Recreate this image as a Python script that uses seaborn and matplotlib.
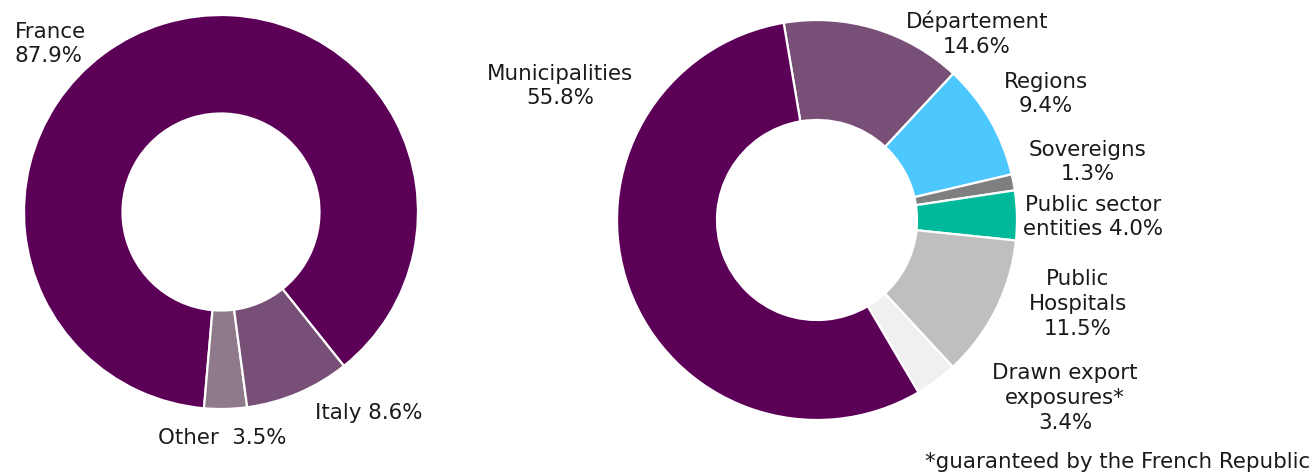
import matplotlib
matplotlib.use("Agg")
import matplotlib.pyplot as plt
import seaborn as sns

# ---- data ----
geo_labels = ["France", "Other", "Italy"]
geo_values = [87.9, 3.5, 8.6]
geo_colors = ["#5C0057", "#8E7A8B", "#784F76"]

cpt_labels = ["Département", "Regions", "Sovereigns", "Public sector entities",
              "Public Hospitals", "Drawn export exposures*", "Municipalities"]
cpt_values = [14.6, 9.4, 1.3, 4.0, 11.5, 3.4, 55.8]
cpt_colors = ["#784F76", "#4DC8FF", "#7F7F7F", "#00B89A", "#BFBFBF", "#F0F0F0", "#5C0057"]

geo_texts = ["France\n87.9%", "Other  3.5%", "Italy 8.6%"]
cpt_texts = ["Département\n14.6%", "Regions\n9.4%", "Sovereigns\n1.3%",
             "Public sector\nentities 4.0%", "Public\nHospitals\n11.5%",
             "Drawn export\nexposures*\n3.4%", "Municipalities\n55.8%"]
footnote = "*guaranteed by the French Republic"

sns.set_theme(style="white")
plt.rcParams['font.family'] = ['DejaVu Sans']

W, H = 1313, 472
fig = plt.figure(figsize=(W / 100, H / 100), dpi=100)

def px_axes(cx, cy, r):
    return fig.add_axes([(cx - r) / W, 1 - (cy + r) / H, 2 * r / W, 2 * r / H])

wedge_kw = dict(width=0.5, edgecolor="white", linewidth=1.6)

ax1 = px_axes(221, 212, 197)
ax1.pie(geo_values, colors=geo_colors, startangle=-51.4, counterclock=True,
        radius=1, wedgeprops=wedge_kw)
ax1.set_xlim(-1, 1); ax1.set_ylim(-1, 1); ax1.axis("off")

ax2 = px_axes(817, 220, 200)
ax2.pie(cpt_values, colors=cpt_colors, startangle=99.6, counterclock=False,
        radius=1, wedgeprops=wedge_kw)
ax2.set_xlim(-1, 1); ax2.set_ylim(-1, 1); ax2.axis("off")

fs = 15.4
tc = "#1A1A1A"

def ftxt(x, y, s, ha="center", va="center"):
    fig.text(x / W, 1 - y / H, s, ha=ha, va=va, fontsize=fs, color=tc,
             linespacing=1.3, multialignment=ha if ha != "left" else "left")

geo_pos = [(15, 44, "left"), (158, 438, "left"), (315, 413, "left")]
for t, (x, y, ha) in zip(geo_texts, geo_pos):
    ftxt(x, y, t, ha=ha)

cpt_pos = [(977, 34), (1046, 94), (1088, 162), (1093, 217), (1078, 304), (1065, 398), (560, 86)]
for t, (x, y) in zip(cpt_texts, cpt_pos):
    ftxt(x, y, t)

ftxt(1310, 462, footnote, ha="right")

fig.savefig("out.png", dpi=100)
